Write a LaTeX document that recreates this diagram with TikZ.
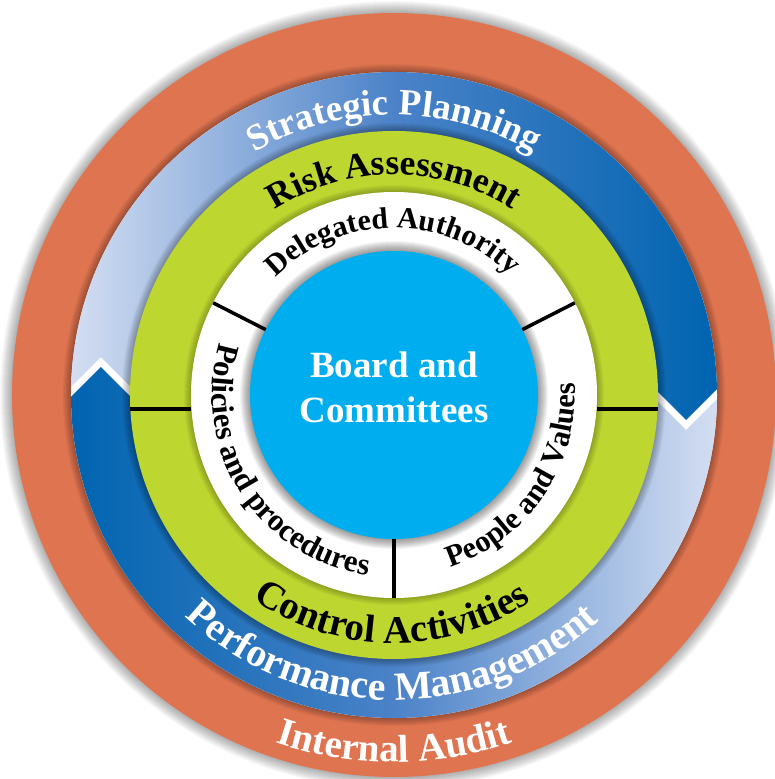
\documentclass[tikz,border=0pt]{standalone}
\usepackage{fontspec}
\setmainfont{Liberation Serif}
\usetikzlibrary{decorations.text}
\definecolor{auditorange}{RGB}{223,116,80}
\definecolor{ringdark}{RGB}{0,100,176}
\definecolor{ringmid}{RGB}{75,130,200}
\definecolor{ringlight}{RGB}{212,222,242}
\definecolor{riskgreen}{RGB}{190,214,48}
\definecolor{boardblue}{RGB}{0,173,239}
\newcommand{\ringfont}[1]{\fontsize{#1}{#1}\selectfont\bfseries}
\tikzset{
  ringlabel/.style={decorate,decoration={text along path,text align=center,text color=#1}},
  divider/.style={line width=3.5pt,black},
  softshadow/.style={black,opacity=#1}
}

\begin{document}
\begin{tikzpicture}[x=1pt,y=1pt]
  \useasboundingbox (-394,-384) rectangle (380,395);
  \fill[white] (-394,-384) rectangle (380,395);
  % outer ring
  \foreach \i in {1,...,12} \fill[softshadow=0.027] (0,0) circle[radius=382+\i];
  \fill[auditorange] (0,0) circle[radius=382];
  \foreach \i in {1,...,8} \fill[softshadow=0.04] (0,0) circle[radius=323+\i];
  \fill[white] (0,0) circle[radius=323];
  % strategic planning half
  \begin{scope}
    \clip (0,0) circle[radius=323];
    \clip (-400,-14) -- (-345,-14) -- (-293,38) -- (-241,-14) -- (250,17) -- (292,-25) -- (334,17) -- (400,17) -- (400,400) -- (-400,400) -- cycle;
    \shade[left color=ringlight,right color=ringdark,middle color=ringmid] (-323,-40) rectangle (323,323);
  \end{scope}
  % performance management half
  \begin{scope}
    \clip (0,0) circle[radius=323];
    \clip (-400,-24) -- (-345,-24) -- (-293,28) -- (-241,-24) -- (250,7) -- (292,-35) -- (334,7) -- (400,7) -- (400,-400) -- (-400,-400) -- cycle;
    \shade[left color=ringdark,right color=ringlight,middle color=ringmid] (-323,-323) rectangle (323,40);
  \end{scope}
  % inner rings
  \foreach \i in {1,...,8} \fill[softshadow=0.04] (0,0) circle[radius=264+\i];
  \fill[riskgreen] (0,0) circle[radius=264];
  \foreach \i in {1,...,7} \fill[softshadow=0.035] (0,0) circle[radius=203+\i];
  \fill[white] (0,0) circle[radius=203];
  \foreach \i in {1,...,10} \fill[softshadow=0.045] (0,0) circle[radius=144+\i];
  \fill[boardblue] (0,0) circle[radius=144];
  % dividers
  \foreach \a in {27,153,270} \draw[divider] (\a:144) -- (\a:203);
  \draw[divider] (-264,-14) -- (-203,-14);
  \draw[divider] (203,-14) -- (264,-14);
  % labels
  \node[font=\fontsize{37}{45}\selectfont\bfseries,text=white,align=center,inner sep=0pt] (board) at (0,8) {Board and\\Committees};
  \path[ringlabel=white,decoration={text={|\ringfont{37}|Strategic Planning}}] (160:280) arc[start angle=160,end angle=20,radius=280];
  \path[ringlabel=black,decoration={text={|\ringfont{35.5}|Risk Assessment}}] (160:220) arc[start angle=160,end angle=20,radius=220];
  \path[ringlabel=black,decoration={text={|\ringfont{30}|Delegated Authority}}] (160.5:167) arc[start angle=160.5,end angle=20.5,radius=167];
  \path[ringlabel=black,decoration={text={|\ringfont{31}|Policies and procedures}}] (142.5:182) arc[start angle=142.5,end angle=282.5,radius=182];
  \path[ringlabel=black,decoration={text={|\ringfont{30.5}|People and Values}}] (256:181) arc[start angle=256,end angle=396,radius=181];
  \path[ringlabel=black,decoration={text={|\ringfont{39}|Control Activities}}] (199.5:248) arc[start angle=199.5,end angle=339.5,radius=248];
  \path[ringlabel=white,decoration={text={|\ringfont{40}|Performance Management}}] (199.5:305) arc[start angle=199.5,end angle=339.5,radius=305];
  \path[ringlabel=white,decoration={text={|\ringfont{39}|Internal Audit}}] (210:367) arc[start angle=210,end angle=330,radius=367];
\end{tikzpicture}
\end{document}
